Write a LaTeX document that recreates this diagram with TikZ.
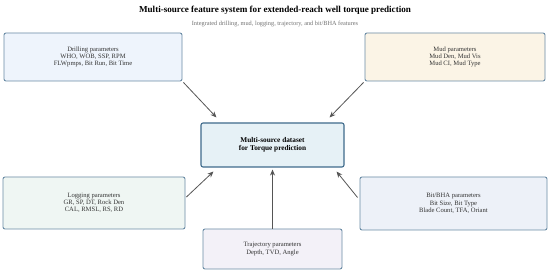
\documentclass[tikz,border=0pt]{standalone}
\usepackage{fontspec}
\setmainfont{Liberation Serif}
\usetikzlibrary{arrows.meta}
\definecolor{bordc}{HTML}{6A8BA5}
\definecolor{centbord}{HTML}{3F6B8C}
\definecolor{arrc}{HTML}{555555}
\definecolor{fdrill}{HTML}{EEF4FC}
\definecolor{fmud}{HTML}{FBF4E6}
\definecolor{fcent}{HTML}{E6F1F6}
\definecolor{flog}{HTML}{EFF6F3}
\definecolor{fbit}{HTML}{EDF1F8}
\definecolor{ftraj}{HTML}{F3F1F8}
\tikzset{
  boxs/.style={draw=bordc, line width=0.9pt, rounded corners=2pt, align=center,
    font=\fontsize{6.6}{7.2}\selectfont, text=black!80, inner sep=0pt},
  centbox/.style={draw=centbord, line width=1.1pt, rounded corners=2pt, align=center,
    font=\fontsize{7.3}{8.2}\selectfont\bfseries, fill=fcent, inner sep=0pt},
  arr/.style={draw=arrc, line width=0.8pt, -{Stealth[length=6pt,width=5pt]}}
}
\begin{document}
\begin{tikzpicture}[x=1pt,y=1pt]
\useasboundingbox (0,0) rectangle (550,273);
\fill[white] (0,0) rectangle (550,273);
\node[font=\fontsize{9.1}{11}\selectfont\bfseries] (title) at (275,263) {Multi-source feature system for extended-reach well torque prediction};
\node[font=\fontsize{6.3}{7}\selectfont, text=black!55] (sub) at (275,249) {Integrated drilling, mud, logging, trajectory, and bit/BHA features};
% boxes (y = 273 - pixel y)
\node[boxs, fill=fdrill, minimum width=178pt, minimum height=48pt] (drill) at (93,216) {Drilling parameters\\WHO, WOB, SSP, RPM\\FLWpmps, Bit Run, Bit Time};
\node[boxs, fill=fmud, minimum width=180pt, minimum height=48pt] (mud) at (455,216) {Mud parameters\\Mud Den, Mud Vis\\Mud CI, Mud Type};
\node[centbox, minimum width=143pt, minimum height=44pt] (cent) at (272.5,128) {Multi-source dataset\\for Torque prediction};
\node[boxs, fill=flog, minimum width=182pt, minimum height=52pt] (log) at (94,70) {Logging parameters\\GR, SP, DT, Rock Den\\CAL, RMSL, RS, RD};
\node[boxs, fill=fbit, minimum width=187pt, minimum height=53pt] (bit) at (453.5,69.5) {Bit/BHA parameters\\Bit Size, Bit Type\\Blade Count, TFA, Oriant};
\node[boxs, fill=ftraj, minimum width=139pt, minimum height=40pt] (traj) at (272.5,24) {Trajectory parameters\\Depth, TVD, Angle};
% arrows
\draw[arr] ([xshift=1pt,yshift=-1pt]drill.south east) -- ([xshift=16pt,yshift=5pt]cent.north west);
\draw[arr] ([xshift=-1pt,yshift=-1pt]mud.south west) -- ([xshift=-15pt,yshift=5pt]cent.north east);
\draw[arr] ([xshift=1pt,yshift=6pt]log.east) -- ([xshift=13pt,yshift=-4pt]cent.south west);
\draw[arr] ([xshift=-2pt,yshift=6pt]bit.west) -- ([xshift=-8pt,yshift=-4pt]cent.south east);
\draw[arr] (traj.north) -- ([yshift=-2pt]cent.south);
\end{tikzpicture}
\end{document}
